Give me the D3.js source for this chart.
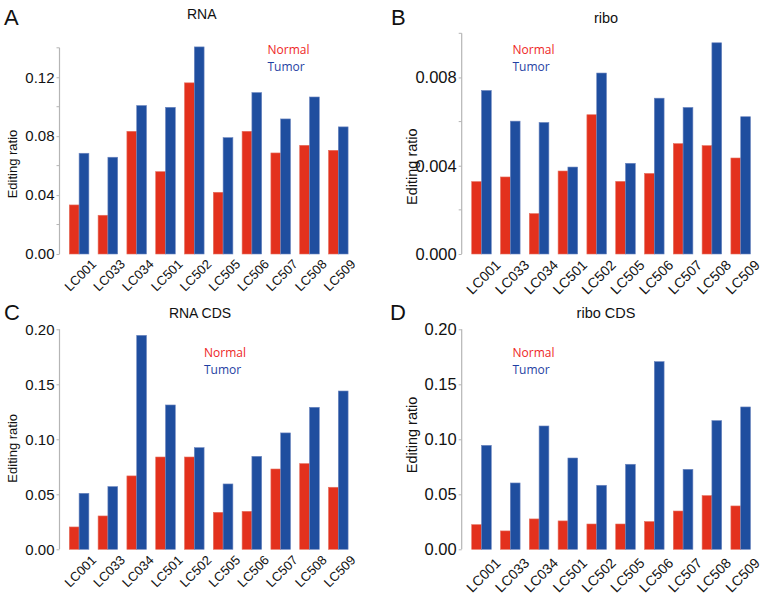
<!DOCTYPE html>
<html>
<head>
<meta charset="utf-8">
<script src="https://cdn.jsdelivr.net/npm/d3@7"></script>
<style>
  html, body { margin: 0; padding: 0; background: #fff; }
  svg { display: block; }
  .tick text { font-family: "Liberation Sans", Arial, Helvetica, sans-serif; fill: #111; }
</style>
</head>
<body>
<svg id="chart" width="771" height="598"></svg>
<script>
// ---- data ----
const categories = ["LC001","LC033","LC034","LC501","LC502","LC505","LC506","LC507","LC508","LC509"];
const seriesNames = ["Normal","Tumor"];

const rnaNormal   = [0.0333,0.0263,0.0833,0.0559,0.1162,0.0419,0.0833,0.0686,0.0738,0.0704];
const rnaTumor    = [0.0684,0.0657,0.1008,0.0996,0.1406,0.0790,0.1096,0.0917,0.1066,0.0863];

const riboNormal  = [0.00328,0.00349,0.00183,0.00376,0.00631,0.00329,0.00365,0.00500,0.00491,0.00435];
const riboTumor   = [0.00741,0.00602,0.00596,0.00394,0.00820,0.00411,0.00706,0.00664,0.00957,0.00622];

const rnaCdsNormal  = [0.0203,0.0303,0.0667,0.0839,0.0839,0.0336,0.0345,0.0730,0.0779,0.0564];
const rnaCdsTumor   = [0.0509,0.0570,0.1945,0.1312,0.0924,0.0594,0.0845,0.1058,0.1291,0.1439];

const riboCdsNormal = [0.0224,0.0167,0.0276,0.0258,0.0230,0.0230,0.0252,0.0348,0.0488,0.0394];
const riboCdsTumor  = [0.0945,0.0603,0.1121,0.0830,0.0582,0.0773,0.1706,0.0727,0.1170,0.1294];

const rnaTicks     = [0, 0.04, 0.08, 0.12];
const rnaMinor     = [0.02, 0.06, 0.10, 0.14];
const riboTicks    = [0, 0.004, 0.008];
const riboMinor    = [0.002, 0.006, 0.010];
const cdsTicks     = [0, 0.05, 0.10, 0.15, 0.20];

// ---- styles / layout ----
const colors = { Normal: "#e3311d", Tumor: "#1f4e9f" };
const legendColors = { Normal: "#ee2626", Tumor: "#1f3fa3" };
const sansFont = '"Liberation Sans", Arial, Helvetica, sans-serif';
const legendFont = '"Open Sans", "Noto Sans", sans-serif';

const panels = [
  { letter: "A", title: "RNA", normal: rnaNormal, tumor: rnaTumor,
    yMax: 0.14, ticks: rnaTicks, minor: rnaMinor, fmt: d3.format(".2f"),
    axisX: 59.5, y0: 254, y1: 47.8, bandX: [64.7, 352.7],
    letterPos: [4, 25], titlePos: [201.7, 19], titleSize: 14,
    legendPos: [267.5, 54], yLabelPos: [12.5, 164], yLabelSize: 13,
    tickSize: 15, xLabelSize: 13, xLabelDx: 18, xLabelY: 265 },
  { letter: "B", title: "ribo", normal: riboNormal, tumor: riboTumor,
    yMax: 0.010, ticks: riboTicks, minor: riboMinor, fmt: d3.format(".3f"),
    axisX: 461.7, y0: 254, y1: 33.3, bandX: [467.1, 755.1],
    letterPos: [391, 25], titlePos: [606, 23.3], titleSize: 14.5,
    legendPos: [512.5, 54], yLabelPos: [412, 166.7], yLabelSize: 14.5,
    tickSize: 16.5, xLabelSize: 14, xLabelDx: 20, xLabelY: 266 },
  { letter: "C", title: "RNA CDS", normal: rnaCdsNormal, tumor: rnaCdsTumor,
    yMax: 0.20, ticks: cdsTicks, minor: [], fmt: d3.format(".2f"),
    axisX: 59.5, y0: 549.3, y1: 329.3, bandX: [64.7, 352.7],
    letterPos: [4, 320], titlePos: [200, 318.3], titleSize: 14,
    legendPos: [204, 357.3], yLabelPos: [12.5, 448.3], yLabelSize: 13,
    tickSize: 15, xLabelSize: 13, xLabelDx: 18, xLabelY: 561 },
  { letter: "D", title: "ribo CDS", normal: riboCdsNormal, tumor: riboCdsTumor,
    yMax: 0.20, ticks: cdsTicks, minor: [], fmt: d3.format(".2f"),
    axisX: 461.7, y0: 549.3, y1: 329.3, bandX: [467.1, 755.1],
    letterPos: [390, 320], titlePos: [606, 318.3], titleSize: 14.5,
    legendPos: [512.5, 357.3], yLabelPos: [412, 435], yLabelSize: 14.5,
    tickSize: 16.5, xLabelSize: 14, xLabelDx: 20, xLabelY: 564 }
];

const svg = d3.select("#chart");
svg.append("rect").attr("width", 771).attr("height", 598).attr("fill", "#fff");

panels.forEach(p => {
  const g = svg.append("g");
  const x = d3.scaleBand().domain(categories).range(p.bandX).paddingInner(0.32).paddingOuter(0.16);
  const xs = d3.scaleBand().domain(seriesNames).range([0, x.bandwidth()]);
  const y = d3.scaleLinear().domain([0, p.yMax]).range([p.y0, p.y1]);

  // bars
  const rows = categories.map((c, i) => ({ cat: c, Normal: p.normal[i], Tumor: p.tumor[i] }));
  const grp = g.selectAll("g.grp").data(rows).join("g")
    .attr("class", "grp")
    .attr("transform", d => `translate(${x(d.cat)},0)`);
  grp.selectAll("rect").data(d => seriesNames.map(s => ({ s, v: d[s] }))).join("rect")
    .attr("x", d => xs(d.s))
    .attr("width", xs.bandwidth())
    .attr("y", d => y(d.v))
    .attr("height", d => y(0) - y(d.v))
    .attr("fill", d => colors[d.s])
    .attr("stroke", d => d.s === "Tumor" ? "#6d86bf" : "#e5705f")
    .attr("stroke-width", 0.6);

  // y axis
  const ax = g.append("g").attr("transform", `translate(${p.axisX},0)`)
    .call(d3.axisLeft(y).tickValues(p.ticks).tickFormat(p.fmt).tickSize(3).tickPadding(2).tickSizeOuter(0));
  ax.select(".domain").attr("stroke", "#b5b5b5").attr("stroke-width", 1.2)
    .attr("d", `M0,${y(0)}V${y(p.yMax)}`);
  ax.selectAll(".tick line").attr("stroke", "#b5b5b5");
  ax.selectAll(".tick text").attr("font-size", p.tickSize).attr("font-family", sansFont);
  // minor ticks
  ax.selectAll("line.minor").data(p.minor).join("line")
    .attr("class", "minor")
    .attr("x1", -3).attr("x2", 0)
    .attr("y1", d => y(d)).attr("y2", d => y(d))
    .attr("stroke", "#b5b5b5");

  // x labels
  g.selectAll("text.xl").data(categories).join("text")
    .attr("class", "xl")
    .attr("transform", d => `translate(${x(d) + x.bandwidth() / 2 + p.xLabelDx},${p.xLabelY}) rotate(-45)`)
    .attr("text-anchor", "end")
    .attr("font-family", sansFont)
    .attr("font-size", p.xLabelSize)
    .attr("fill", "#111")
    .text(d => d);

  // y label
  g.append("text")
    .attr("transform", `translate(${p.yLabelPos[0]},${p.yLabelPos[1]}) rotate(-90)`)
    .attr("text-anchor", "middle")
    .attr("dy", "0.35em")
    .attr("font-family", sansFont)
    .attr("font-size", p.yLabelSize)
    .attr("fill", "#111")
    .text("Editing ratio");

  // title
  g.append("text")
    .attr("x", p.titlePos[0]).attr("y", p.titlePos[1])
    .attr("text-anchor", "middle")
    .attr("font-family", sansFont)
    .attr("font-size", p.titleSize)
    .attr("fill", "#111")
    .text(p.title);

  // panel letter
  g.append("text")
    .attr("x", p.letterPos[0]).attr("y", p.letterPos[1])
    .attr("font-family", sansFont)
    .attr("font-size", 22)
    .attr("fill", "#111")
    .text(p.letter);

  // legend
  g.selectAll("text.lg").data(seriesNames).join("text")
    .attr("class", "lg")
    .attr("x", p.legendPos[0])
    .attr("y", (d, i) => p.legendPos[1] + i * 16.5)
    .attr("font-family", legendFont)
    .attr("font-size", 12)
    .attr("fill", d => legendColors[d])
    .text(d => d);
});
</script>
</body>
</html>
